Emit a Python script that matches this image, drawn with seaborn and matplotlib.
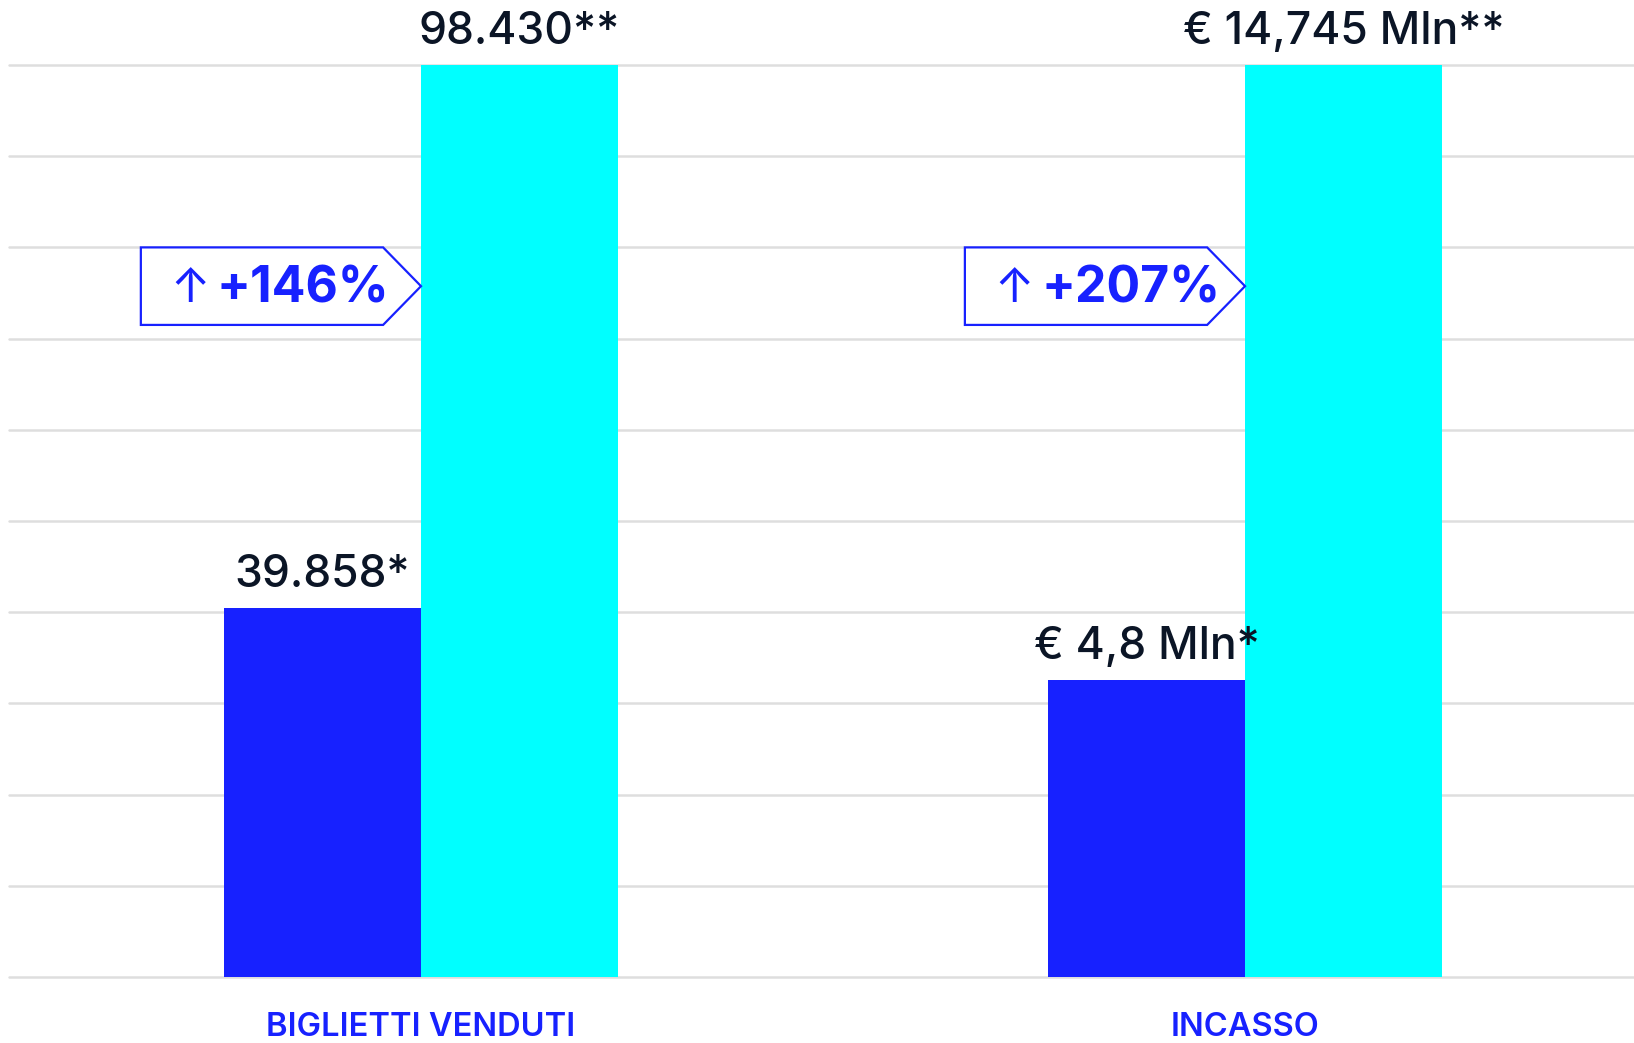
import matplotlib
matplotlib.use("Agg")
import matplotlib.pyplot as plt
import seaborn as sns
import pandas as pd
from matplotlib.patches import Polygon

# ---- data ----
categories = ["BIGLIETTI VENDUTI", "INCASSO"]
periods = ["Prima", "Dopo"]
before_values = [39858, 4.8]
after_values = [98430, 14.745]
before_labels = ["39.858*", "€ 4,8 Mln*"]
after_labels = ["98.430**", "€ 14,745 Mln**"]
growth_labels = ["+146%", "+207%"]

BLUE = "#1721FF"
CYAN = "#00FFFF"
DARK = "#0B1526"
GRID = "#DEDEDE"

rows = []
for c, b, a in zip(categories, before_values, after_values):
    m = max(b, a)
    rows.append({"categoria": c, "periodo": periods[0], "indice": b / m * 100})
    rows.append({"categoria": c, "periodo": periods[1], "indice": a / m * 100})
df = pd.DataFrame(rows)

sns.set_theme(style="white")
plt.rcParams["font.family"] = ["Inter", "DejaVu Sans"]

W, H = 1634, 1043
fig = plt.figure(figsize=(W / 100, H / 100), dpi=100)
ax = fig.add_axes([9 / W, 66 / H, (W - 9) / W, 912 / H])

for yv in range(0, 101, 10):
    ax.axhline(yv, color=GRID, lw=1.8, zorder=0, clip_on=False)

sns.barplot(data=df, x="categoria", y="indice", hue="periodo",
            order=categories, hue_order=periods, palette=[BLUE, CYAN],
            width=0.478, saturation=1, dodge=True, ax=ax, legend=False,
            zorder=3, linewidth=0)

ax.set_xlim(-0.5, 1.472)
ax.set_ylim(0, 100)
ax.set_xlabel("")
ax.set_ylabel("")
ax.set_yticks([])
ax.tick_params(axis="x", length=0, pad=25)
for s in ax.spines.values():
    s.set_visible(False)
for lab in ax.get_xticklabels():
    lab.set_color(BLUE)
    lab.set_fontsize(23.5)
    lab.set_fontweight(600)

# value labels
for cont, labels in zip(ax.containers, [before_labels, after_labels]):
    for bar, txt in zip(cont.patches, labels):
        ax.annotate(txt, (bar.get_x() + bar.get_width() / 2, bar.get_height()),
                    xytext=(0, 15), textcoords="offset points",
                    ha="center", va="baseline", fontsize=32,
                    fontweight=500, color=DARK)

# growth callouts
for bar, g in zip(ax.containers[1].patches, growth_labels):
    tip = bar.get_x()
    yb, yt = 71.5, 80.0
    ym = (yb + yt) / 2
    poly = Polygon([(tip - 0.340, yb), (tip - 0.046, yb), (tip, ym),
                    (tip - 0.046, yt), (tip - 0.340, yt)], closed=True,
                   facecolor="white", edgecolor=BLUE, lw=1.6, zorder=4)
    ax.add_patch(poly)
    ax.text(tip - 0.280, 74.0, "↑", ha="center", va="baseline",
            fontsize=34, color=BLUE, zorder=5)
    ax.text(tip - 0.2476, 74.0, g, ha="left", va="baseline",
            fontsize=36, fontweight="bold", color=BLUE, zorder=5)

fig.savefig("out.png", dpi=100)
